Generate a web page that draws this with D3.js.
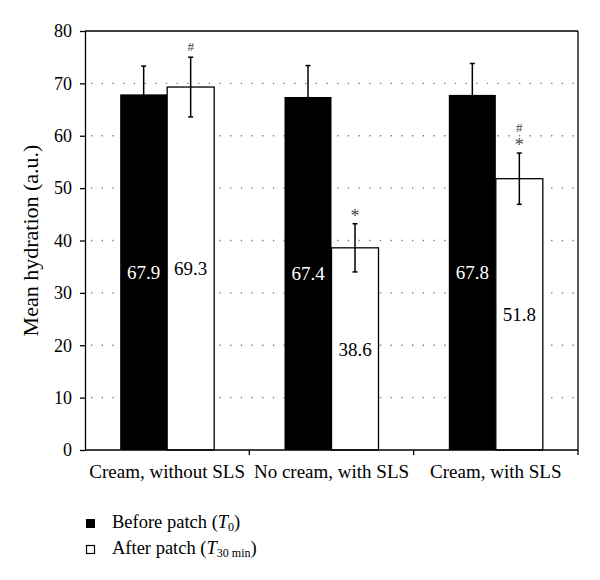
<!DOCTYPE html>
<html><head><meta charset="utf-8">
<script src="https://cdn.jsdelivr.net/npm/d3@7"></script>
<style>body{margin:0;background:#fff}svg{display:block}svg text{font-family:"Liberation Serif","Times New Roman",serif}</style>
</head><body><svg id="c" width="600" height="580" font-family="Liberation Serif"></svg>
<script>
const categories = ["Cream, without SLS", "No cream, with SLS", "Cream, with SLS"];
const beforeVals = [67.9, 67.4, 67.8];
const afterVals = [69.3, 38.6, 51.8];
const beforeErr = [5.4, 6.0, 6.0];
const afterErr = [5.7, 4.6, 4.9];
const afterMarks = [["#"], ["*"], ["*", "#"]];
const yTicks = [0, 10, 20, 30, 40, 50, 60, 70, 80];

const FF = "Liberation Serif";
const svg = d3.select("#c");
const L = 85, R = 578, T = 31, B = 450;
const x = d3.scaleBand().domain(categories).range([L, R]).padding(0);
const y = d3.scaleLinear().domain([0, 80]).range([B, T]);
const bw = 47;

// gridlines
svg.append("g").selectAll("line").data(yTicks.filter(d => d > 0 && d < 80)).join("line")
  .attr("x1", L + 6).attr("x2", R).attr("y1", d => y(d)).attr("y2", d => y(d))
  .attr("stroke", "#777").attr("stroke-width", 1.3).attr("stroke-dasharray", "1.3,9.4");

// frame top/right
svg.append("line").attr("x1", L).attr("x2", R).attr("y1", y(80)).attr("y2", y(80)).attr("stroke", "#000").attr("stroke-width", 1.3);
svg.append("line").attr("x1", R).attr("x2", R).attr("y1", y(80)).attr("y2", y(0)).attr("stroke", "#000").attr("stroke-width", 1.3);

const cx = c => x(c) + x.bandwidth() / 2;

// bars
const g = svg.append("g");
g.selectAll(".b").data(categories).join("rect")
  .attr("x", c => cx(c) - bw).attr("width", bw)
  .attr("y", (c, i) => y(beforeVals[i])).attr("height", (c, i) => y(0) - y(beforeVals[i]))
  .attr("fill", "#000");
g.selectAll(".a").data(categories).join("rect")
  .attr("x", c => cx(c)).attr("width", bw)
  .attr("y", (c, i) => y(afterVals[i])).attr("height", (c, i) => y(0) - y(afterVals[i]))
  .attr("fill", "#fff").attr("stroke", "#000").attr("stroke-width", 1.3);

// error bars
function errBars(vals, errs, off) {
  const eg = svg.append("g").attr("stroke", "#000").attr("stroke-width", 1.5);
  categories.forEach((c, i) => {
    const ex = cx(c) + off;
    eg.append("line").attr("x1", ex).attr("x2", ex).attr("y1", y(vals[i] - errs[i])).attr("y2", y(vals[i] + errs[i]));
    [vals[i] - errs[i], vals[i] + errs[i]].forEach(v =>
      eg.append("line").attr("x1", ex - 2.5).attr("x2", ex + 2.5).attr("y1", y(v)).attr("y2", y(v)));
  });
}
errBars(beforeVals, beforeErr, -bw / 2);
errBars(afterVals, afterErr, bw / 2);

// significance marks
categories.forEach((c, i) => {
  afterMarks[i].forEach((m, k) => {
    const top = y(afterVals[i] + afterErr[i]);
    svg.append("text").attr("x", cx(c) + bw / 2).attr("y", top - (m === "*" ? 2 : 6) - k * 15)
      .attr("text-anchor", "middle").attr("font-family", FF).attr("font-size", m === "*" ? 18 : 13).attr("fill", "#444").text(m);
  });
});

// value labels
categories.forEach((c, i) => {
  svg.append("text").attr("x", cx(c) - bw / 2).attr("y", y(beforeVals[i] / 2)).attr("dy", "0.35em")
    .attr("text-anchor", "middle").attr("font-family", FF).attr("font-size", 19).attr("fill", "#fff").text(beforeVals[i].toFixed(1));
  svg.append("text").attr("x", cx(c) + bw / 2).attr("y", y(afterVals[i] / 2)).attr("dy", "0.35em")
    .attr("text-anchor", "middle").attr("font-family", FF).attr("font-size", 19).attr("fill", "#000").text(afterVals[i].toFixed(1));
});

// y axis
const ya = svg.append("g").attr("transform", `translate(${L},0)`)
  .call(d3.axisLeft(y).tickValues(yTicks).tickSize(5).tickPadding(8).tickSizeOuter(0));
ya.attr("font-family", FF);
ya.select(".domain").attr("stroke-width", 1.3);
ya.selectAll(".tick line").attr("stroke-width", 1.3);
ya.selectAll("text").attr("font-size", 18).attr("font-family", FF).attr("fill", "#000");

// x axis with ticks at category boundaries
const xa = svg.append("g").attr("transform", `translate(0,${B})`);
xa.append("line").attr("x1", L).attr("x2", R).attr("stroke", "#000").attr("stroke-width", 1.3);
xa.selectAll(".bt").data(categories).join("line")
  .attr("x1", c => x(c) + x.bandwidth()).attr("x2", c => x(c) + x.bandwidth())
  .attr("y1", 0).attr("y2", 5).attr("stroke", "#000").attr("stroke-width", 1.3);
xa.selectAll(".lab").data(categories).join("text")
  .attr("x", c => cx(c)).attr("y", 28).attr("text-anchor", "middle").attr("font-family", FF).attr("font-size", 19).text(c => c);

// y title
svg.append("text").attr("transform", `translate(38,${(T + B) / 2}) rotate(-90)`)
  .attr("text-anchor", "middle").attr("font-family", FF).attr("font-size", 22).text("Mean hydration (a.u.)");

// legend
const legend = svg.append("g").attr("transform", "translate(86,0)");
legend.append("rect").attr("x", 0).attr("y", 519).attr("width", 9).attr("height", 9).attr("fill", "#000");
legend.append("rect").attr("x", 0.5).attr("y", 545.5).attr("width", 8).attr("height", 8).attr("fill", "#fff").attr("stroke", "#000").attr("stroke-width", 1.2);
const t1 = legend.append("text").attr("x", 26).attr("y", 528).attr("font-family", FF).attr("font-size", 18.5);
t1.append("tspan").text("Before patch (");
t1.append("tspan").attr("font-style", "italic").text("T");
t1.append("tspan").attr("font-size", 12).attr("dy", 3).text("0");
t1.append("tspan").attr("dy", -3).text(")");
const t2 = legend.append("text").attr("x", 26).attr("y", 554).attr("font-family", FF).attr("font-size", 18.5);
t2.append("tspan").text("After patch (");
t2.append("tspan").attr("font-style", "italic").text("T");
t2.append("tspan").attr("font-size", 12).attr("dy", 3).text("30 min");
t2.append("tspan").attr("dy", -3).text(")");
</script></body></html>
